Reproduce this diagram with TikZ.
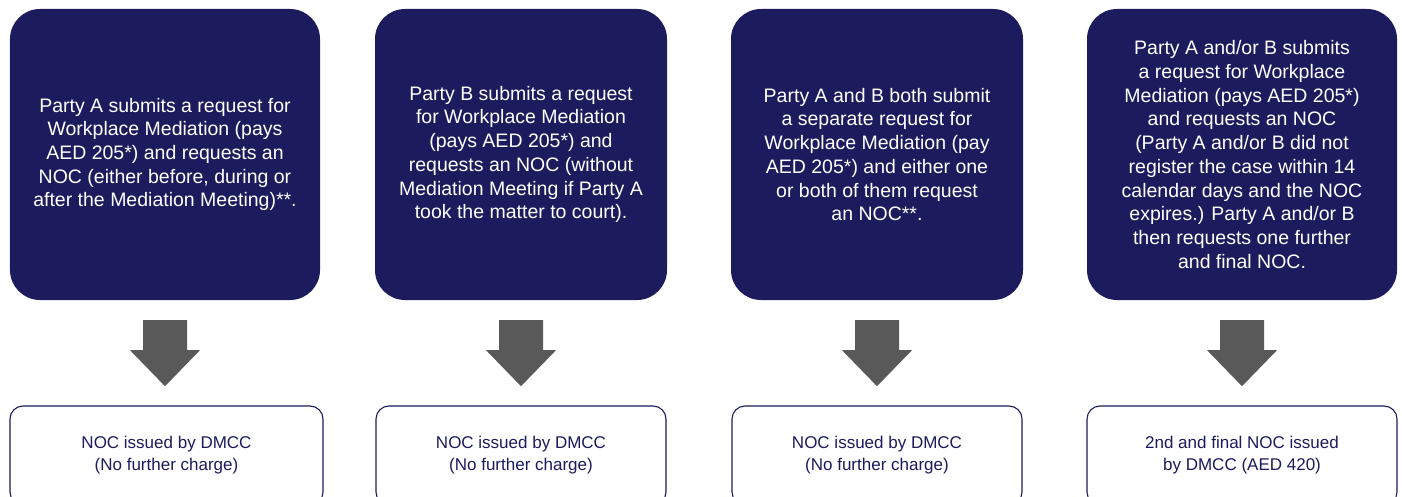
\documentclass[tikz,border=0pt]{standalone}
\usepackage{fontspec}
\setmainfont{Liberation Sans}
\usetikzlibrary{calc}
\definecolor{navy}{HTML}{1B1B5E}
\definecolor{arrowgray}{HTML}{595959}
\tikzset{
  topbox/.style={fill=navy, draw=none, rounded corners=30bp, minimum height=291bp,
    inner sep=0pt, text=white, align=center,
    font=\fontsize{19.5bp}{23.7bp}\selectfont},
  botbox/.style={fill=white, draw=navy, line width=1.1bp, rounded corners=13bp, minimum height=99bp,
    inner sep=0pt, text=navy, align=center,
    font=\fontsize{17bp}{22bp}\selectfont},
  blockarrow/.style={fill=arrowgray, draw=none}
}
\newcommand{\blockarr}[1]{%
  \fill[blockarrow] ($(#1.south)+(-22,-20)$) -- ++(44,0) -- ++(0,-30) -- ++(13,0)
    -- ($(#1.south)+(0,-86)$) -- ($(#1.south)+(-35,-50)$) -- ++(13,0) -- cycle;}
\begin{document}
\begin{tikzpicture}[x=1bp,y=1bp]
\useasboundingbox (0,0) rectangle (1402,-497);
\clip (0,0) rectangle (1402,-497);
\node[topbox, minimum width=310bp] (t1) at (165,-154.5)
  {Party A submits a request for\\Workplace Mediation (pays\\AED 205*) and requests an\\NOC (either before, during or\\after the Mediation Meeting)**.};
\node[topbox, minimum width=292bp] (t2) at (521,-154.5)
  {Party B submits a request\\for Workplace Mediation\\(pays AED 205*) and\\requests an NOC (without\\Mediation Meeting if Party A\\took the matter to court).};
\node[topbox, minimum width=292bp] (t3) at (877,-154.5)
  {Party A and B both submit\\a separate request for\\Workplace Mediation (pay\\AED 205*) and either one\\or both of them request\\an NOC**.};
\node[topbox, minimum width=310bp] (t4) at (1242,-154.5)
  {Party A and/or B submits\\a request for Workplace\\Mediation (pays AED 205*)\\and requests an NOC\\(Party A and/or B did not\\register the case within 14\\calendar days and the NOC\\expires.) Party A and/or B\\then requests one further\\and final NOC.};
\node[botbox, minimum width=313bp] (b1) at (166.5,-455.5) {NOC issued by DMCC\\(No further charge)};
\node[botbox, minimum width=290bp] (b2) at (521,-455.5) {NOC issued by DMCC\\(No further charge)};
\node[botbox, minimum width=290bp] (b3) at (877,-455.5) {NOC issued by DMCC\\(No further charge)};
\node[botbox, minimum width=310bp] (b4) at (1242,-455.5) {2nd and final NOC issued\\by DMCC (AED 420)};
\blockarr{t1}
\blockarr{t2}
\blockarr{t3}
\blockarr{t4}
\end{tikzpicture}
\end{document}
